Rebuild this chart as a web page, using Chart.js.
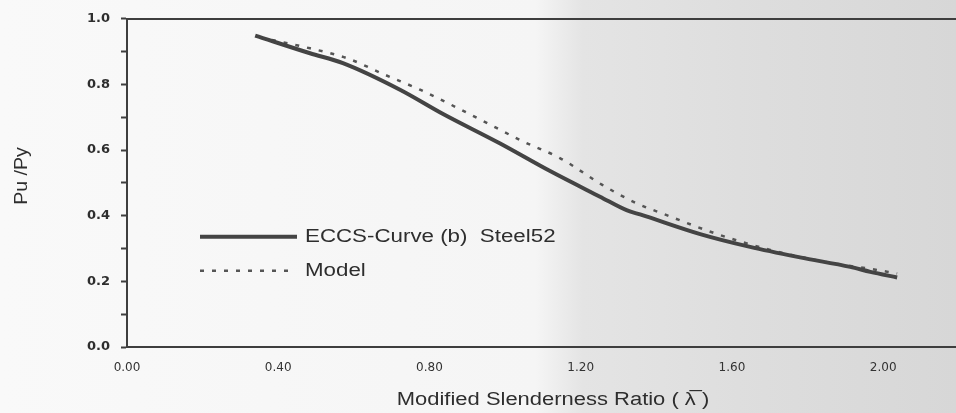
<!DOCTYPE html>
<html>
<head>
    <title>ECCS Curve vs Model</title>
    <script src="https://cdn.jsdelivr.net/npm/chart.js"></script>
    <style>
        body {
            margin: 0;
            width: 956px;
            height: 413px;
            overflow: hidden;
            background: linear-gradient(to right, #f9f9f9 0%, #f5f5f5 56%, #e4e4e4 61%, #dddddd 80%, #d7d7d7 100%);
        }
        #chart {
            display: block;
        }
    </style>
</head>
<body>
    <canvas id="chart" width="956" height="413"></canvas>

    <script>
        // values
        const eccsLambda = [0.339, 0.484, 0.571, 0.722, 0.836, 0.987, 1.119, 1.251, 1.323, 1.357, 1.516, 1.648, 1.780, 1.913, 1.966, 2.037];
        const eccsRatio  = [0.949, 0.895, 0.865, 0.784, 0.710, 0.620, 0.536, 0.458, 0.416, 0.404, 0.344, 0.305, 0.273, 0.244, 0.229, 0.212];

        const modelLambda = [0.352, 0.484, 0.582, 0.683, 0.775, 0.926, 1.048, 1.146, 1.257, 1.344, 1.429, 1.561, 1.701, 1.868, 1.966, 2.037];
        const modelRatio  = [0.943, 0.910, 0.880, 0.829, 0.784, 0.698, 0.626, 0.575, 0.494, 0.440, 0.401, 0.344, 0.296, 0.255, 0.238, 0.224];

        const seriesNames = ['ECCS-Curve (b)  Steel52', 'Model'];
        const xTitle = 'Modified Slenderness Ratio ( \u03BB\u0305 )';
        const yTitle = 'Pu /Py';

        const ink = '#3e3e3e';

        function toPoints(xs, ys) {
            return xs.map((x, i) => ({ x: x, y: ys[i] }));
        }

        // draw text a bit wider than the font, like the scanned lettering
        function wideText(ctx, text, x, y, sx, align) {
            ctx.save();
            ctx.translate(x, y);
            ctx.scale(sx, 1);
            ctx.textAlign = align;
            ctx.fillText(text, 0, 0);
            ctx.restore();
        }

        const overlay = {
            id: 'overlay',
            afterDraw(chart) {
                const ctx = chart.ctx;
                const area = chart.chartArea;
                const ds = chart.data.datasets;

                ctx.save();
                ctx.fillStyle = '#2e2e2e';
                ctx.textBaseline = 'middle';
                ctx.font = '18px "Liberation Sans", Arial, sans-serif';

                // legend inside the plot
                const rows = [area.top + 218, area.top + 252];
                const lineEnds = [297, 290];
                ds.forEach((d, i) => {
                    ctx.save();
                    ctx.strokeStyle = d.borderColor;
                    ctx.lineWidth = d.borderWidth;
                    ctx.setLineDash(d.borderDash || []);
                    ctx.beginPath();
                    ctx.moveTo(200, rows[i]);
                    ctx.lineTo(lineEnds[i], rows[i]);
                    ctx.stroke();
                    ctx.restore();
                    wideText(ctx, d.label, 305, rows[i], 1.24, 'left');
                });

                // axis titles
                wideText(ctx, xTitle, 553, 400, 1.22, 'center');

                ctx.save();
                ctx.translate(22, 176);
                ctx.rotate(-Math.PI / 2);
                wideText(ctx, yTitle, 0, 0, 1.08, 'center');
                ctx.restore();

                ctx.restore();
            }
        };

        const ctx = document.getElementById('chart').getContext('2d');

        new Chart(ctx, {
            type: 'line',
            data: {
                datasets: [{
                    label: seriesNames[0],
                    data: toPoints(eccsLambda, eccsRatio),
                    borderColor: '#444',
                    borderWidth: 4,
                    pointRadius: 0,
                    cubicInterpolationMode: 'monotone',
                    fill: false
                }, {
                    label: seriesNames[1],
                    data: toPoints(modelLambda, modelRatio),
                    borderColor: '#555',
                    borderWidth: 2.5,
                    borderDash: [4, 8],
                    pointRadius: 0,
                    cubicInterpolationMode: 'monotone',
                    fill: false
                }]
            },
            options: {
                responsive: false,
                animation: false,
                layout: {
                    padding: { top: 13, right: 1, left: 0, bottom: 0 }
                },
                plugins: {
                    legend: { display: false },
                    tooltip: { enabled: false }
                },
                scales: {
                    x: {
                        type: 'linear',
                        position: 'bottom',
                        min: 0,
                        max: 2.19,
                        afterFit: s => { s.height = 66; },
                        ticks: {
                            stepSize: 0.4,
                            includeBounds: false,
                            padding: 14,
                            color: '#333',
                            font: { family: '"DejaVu Sans", sans-serif', size: 12 },
                            callback: v => v.toFixed(2)
                        },
                        grid: { drawOnChartArea: false, drawTicks: false },
                        border: { color: ink, width: 2 }
                    },
                    x2: {
                        type: 'linear',
                        position: 'top',
                        min: 0,
                        max: 2.19,
                        afterFit: s => { s.height = 0; },
                        ticks: { display: false },
                        grid: { drawOnChartArea: false, drawTicks: false },
                        border: { color: ink, width: 2 }
                    },
                    y: {
                        min: 0,
                        max: 1,
                        afterFit: s => { s.width = 127; },
                        ticks: {
                            stepSize: 0.1,
                            padding: 11,
                            color: '#2e2e2e',
                            font: { family: '"DejaVu Sans", sans-serif', size: 13, weight: 'bold' },
                            callback: v => Math.round(v * 10) % 2 === 0 ? v.toFixed(1) : ''
                        },
                        grid: { drawOnChartArea: false, tickLength: 6, tickWidth: 2, color: ink },
                        border: { color: ink, width: 2 }
                    }
                }
            },
            plugins: [overlay]
        });
    </script>
</body>
</html>
